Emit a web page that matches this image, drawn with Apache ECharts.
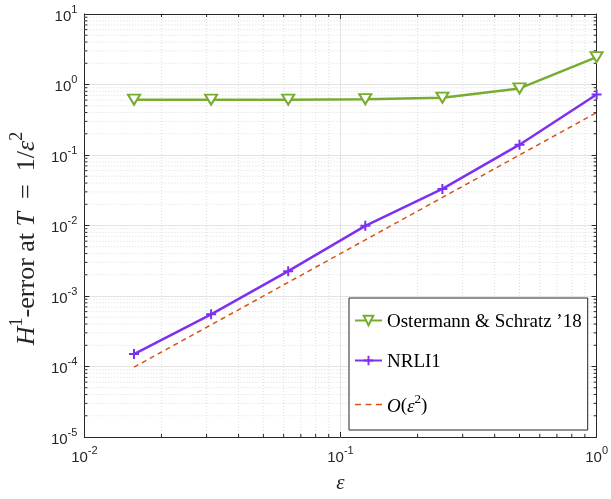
<!DOCTYPE html>
<html>
<head>
<meta charset="utf-8">
<title>H1 error</title>
<script src="https://cdn.jsdelivr.net/npm/echarts@6/dist/echarts.min.js"></script>
<style>
  html, body { margin: 0; padding: 0; background: #fff; }
  #errPlot { width: 611px; height: 499px; }
</style>
</head>
<body>
<div id="errPlot"></div>
<script>
// eps = 2^-6 ... 2^0
var epsValues = [0.015625, 0.03125, 0.0625, 0.125, 0.25, 0.5, 1];
var ostermannErr = [0.61, 0.61, 0.61, 0.62, 0.65, 0.88, 2.45];
var nrli1Err = [1.5e-4, 5.5e-4, 2.25e-3, 9.9e-3, 3.3e-2, 0.14, 0.72];
var orderRef = [9.8e-5, 3.9e-4, 1.56e-3, 6.25e-3, 2.5e-2, 0.1, 0.4];

var seriesNames = ['Ostermann & Schratz \u201918', 'NRLI1', 'O(\u03b5\u00b2)'];
var xDecades = [-2, -1];
var yDecades = [-5, -4, -3, -2, -1, 0];

var X_MIN = 0.01, X_MAX = 1, Y_MIN = 1e-5, Y_MAX = 10;
var axisColor = '#262626';

function pairs(xs, ys) {
    return xs.map(function (x, i) { return [x, ys[i]]; });
}

// minor tick values 2..9 x 10^k
function minors(decades) {
    var out = [];
    decades.forEach(function (d) {
        for (var m = 2; m <= 9; m++) out.push(m * Math.pow(10, d));
    });
    return out;
}

function powLabel(v) {
    var e = Math.round(Math.log10(v));
    return '{b|10}{s|' + e + '}';
}

var labelRich = {
    b: { fontSize: 15, color: axisColor, fontFamily: 'Liberation Sans', padding: [5, 0, 0, 0], verticalAlign: 'bottom' },
    s: { fontSize: 11, color: axisColor, fontFamily: 'Liberation Sans', verticalAlign: 'top', lineHeight: 11 }
};

var serifRich = {
    i: { fontFamily: 'Liberation Serif', fontStyle: 'italic', fontSize: 26, color: axisColor, padding: [6, 0, 0, 0], verticalAlign: 'bottom' },
    r: { fontFamily: 'Liberation Serif', fontSize: 26, color: axisColor, padding: [6, 0, 0, 0], verticalAlign: 'bottom' },
    s: { fontFamily: 'Liberation Serif', fontSize: 18, color: axisColor, verticalAlign: 'top', lineHeight: 18 },
    gap: { width: 26 }
};

var legendRich = {
    r: { fontFamily: 'Liberation Serif', fontSize: 19, color: '#000', padding: [4, 0, 0, 0], verticalAlign: 'bottom' },
    i: { fontFamily: 'Liberation Serif', fontStyle: 'italic', fontSize: 19, color: '#000', padding: [4, 0, 0, 0], verticalAlign: 'bottom' },
    s: { fontFamily: 'Liberation Serif', fontSize: 13, color: '#000', verticalAlign: 'top', lineHeight: 13 }
};

function line(x1, y1, x2, y2, style) {
    return { type: 'line', shape: { x1: x1, y1: y1, x2: x2, y2: y2 }, style: style, silent: true };
}

var gridStyle = { stroke: '#d4d4d4', lineWidth: 0.8, lineDash: [1, 2] };
var tickStyle = { stroke: axisColor, lineWidth: 1 };

function xMinorItem(params, api) {
    var v = api.value(0);
    var p0 = api.coord([v, Y_MIN]);
    var p1 = api.coord([v, Y_MAX]);
    return { type: 'group', children: [
        line(p0[0], p0[1], p1[0], p1[1], gridStyle),
        line(p0[0], p0[1], p0[0], p0[1] - 3, tickStyle),
        line(p1[0], p1[1], p1[0], p1[1] + 3, tickStyle)
    ] };
}

function yMinorItem(params, api) {
    var v = api.value(1);
    var p0 = api.coord([X_MIN, v]);
    var p1 = api.coord([X_MAX, v]);
    return { type: 'group', children: [
        line(p0[0], p0[1], p1[0], p1[1], gridStyle),
        line(p0[0], p0[1], p0[0] + 3, p0[1], tickStyle),
        line(p1[0], p1[1], p1[0] - 3, p1[1], tickStyle)
    ] };
}

var plusSymbol = 'path://M4,0h2v10h-2z M0,4h10v2h-10z';
// dashed legend sample, with tiny corner dots to keep the 27x12 box
var dashIcon = 'path://M0,0h0.1v0.1h-0.1z M0,5.3h6v1.4h-6z M10.5,5.3h6v1.4h-6z M21,5.3h6v1.4h-6z M26.9,11.9h0.1v0.1h-0.1z';

try {
    var errPlot = echarts.init(document.getElementById('errPlot'));

    var baseX = {
        type: 'log', logBase: 10, min: X_MIN, max: X_MAX, interval: 1,
        axisLine: { show: true, lineStyle: { color: axisColor, width: 1 } },
        axisTick: { show: true, inside: true, length: 5, lineStyle: { color: axisColor } },
        minorTick: { show: false }
    };
    var baseY = {
        type: 'log', logBase: 10, min: Y_MIN, max: Y_MAX, interval: 1,
        axisLine: { show: true, lineStyle: { color: axisColor, width: 1 } },
        axisTick: { show: true, inside: true, length: 5, lineStyle: { color: axisColor } },
        minorTick: { show: false }
    };

    var opt = {
        backgroundColor: '#fff',
        animation: false,
        grid: { left: 82, right: 12, top: 14, bottom: 54, containLabel: false },
        xAxis: [
            Object.assign({}, baseX, {
                position: 'bottom',
                name: '\u03b5', nameLocation: 'middle', nameGap: 36,
                nameTextStyle: { fontFamily: 'Liberation Serif', fontStyle: 'italic', fontSize: 21, color: axisColor },
                axisLabel: { formatter: powLabel, rich: labelRich, margin: 8 },
                splitLine: { show: true, lineStyle: { color: '#e3e3e3', width: 1 } }
            }),
            Object.assign({}, baseX, {
                position: 'top',
                axisLabel: { show: false },
                splitLine: { show: false }
            })
        ],
        yAxis: [
            Object.assign({}, baseY, {
                position: 'left',
                name: '{i|H}{s|1}{r|-error at }{i|T}{r|\u2002=\u20021/}{i|\u03b5}{s|2}{gap| }',
                nameLocation: 'middle', nameGap: 40, nameRotate: 90,
                nameTextStyle: { rich: serifRich },
                axisLabel: { formatter: powLabel, rich: labelRich, margin: 7 },
                splitLine: { show: true, lineStyle: { color: '#e3e3e3', width: 1 } }
            }),
            Object.assign({}, baseY, {
                position: 'right',
                axisLabel: { show: false },
                splitLine: { show: false }
            })
        ],
        legend: {
            orient: 'vertical',
            left: 349, top: 298,
            data: [
                { name: seriesNames[0] },
                { name: seriesNames[1] },
                { name: seriesNames[2], icon: dashIcon, itemStyle: { color: '#D95319' } }
            ],
            backgroundColor: '#fff',
            borderColor: axisColor, borderWidth: 1,
            padding: [15, 6, 14, 5],
            itemGap: 21,
            itemWidth: 27, itemHeight: 12,
            textStyle: { rich: legendRich },
            formatter: function (name) {
                if (name === seriesNames[2]) return '{i|O}{r|(}{i|\u03b5}{s|2}{r|)}';
                return '{r|' + name + '}';
            }
        },
        series: [
            {
                type: 'custom', name: 'xminor', renderItem: xMinorItem, z: 1, silent: true,
                data: minors(xDecades).map(function (v) { return [v, 1]; })
            },
            {
                type: 'custom', name: 'yminor', renderItem: yMinorItem, z: 1, silent: true,
                data: minors(yDecades).map(function (v) { return [0.1, v]; })
            },
            {
                name: seriesNames[0], type: 'line', z: 4,
                data: pairs(epsValues, ostermannErr),
                symbol: 'emptyTriangle', symbolRotate: 180, symbolSize: [12, 10],
                lineStyle: { color: '#77AC30', width: 2.5 },
                itemStyle: { color: '#77AC30', borderColor: '#77AC30', borderWidth: 2.4 }
            },
            {
                name: seriesNames[1], type: 'line', z: 4,
                data: pairs(epsValues, nrli1Err),
                symbol: plusSymbol, symbolSize: 10,
                lineStyle: { color: '#7E30F0', width: 2.5 },
                itemStyle: { color: '#7E30F0' }
            },
            {
                name: seriesNames[2], type: 'line', z: 3,
                data: pairs(epsValues, orderRef),
                symbol: 'none',
                lineStyle: { color: '#D95319', width: 1.5, type: [5, 4] },
                itemStyle: { color: '#D95319' }
            }
        ]
    };
    errPlot.setOption(opt);
} catch (e) {
    console.log(e);
}
</script>
</body>
</html>
